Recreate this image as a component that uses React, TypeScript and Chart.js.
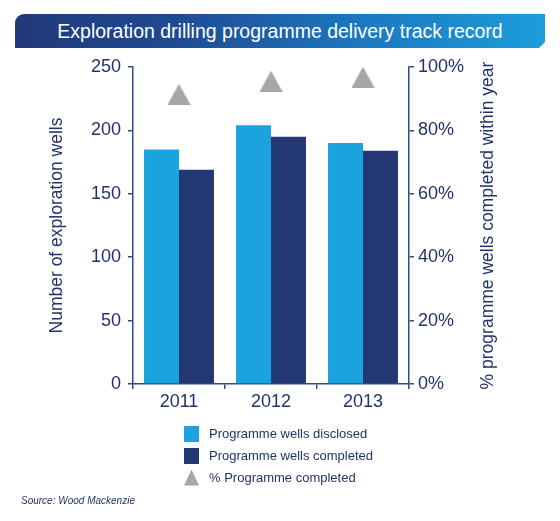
import React, { useEffect, useRef } from 'react';
import { Chart, registerables } from 'chart.js';

Chart.register(...registerables);

// ---- data ----
const categories = ['2011', '2012', '2013'];
const wellsDisclosed = [185, 204, 190];
const wellsCompleted = [169, 195, 184];
const pctCompleted = [91.4, 95.5, 96.8];
const leftTicks = [0, 50, 100, 150, 200, 250];
const rightTicks = [0, 20, 40, 60, 80, 100];
const seriesNames = ['Programme wells disclosed', 'Programme wells completed', '% Programme completed'];
const titleText = 'Exploration drilling programme delivery track record';
const leftTitle = 'Number of exploration wells';
const rightTitle = '% programme wells completed within year';
const sourceText = 'Source: Wood Mackenzie';

// ---- styles ----
const FONT = '"Liberation Sans", Arial, Helvetica, sans-serif';
const LIGHT = '#1ba3dd';
const DARK = '#233873';
const GREY = '#a6a6a6';
const TEXT = '#22336b';
const AXIS = '#2e4c8c';

function makeTriangle(w: number, h: number) {
  const c = document.createElement('canvas');
  c.width = w;
  c.height = h;
  const ctx = c.getContext('2d')!;
  ctx.fillStyle = GREY;
  ctx.beginPath();
  ctx.moveTo(w / 2, 0);
  ctx.lineTo(w, h);
  ctx.lineTo(0, h);
  ctx.closePath();
  ctx.fill();
  return c;
}

const rightTitlePlugin = {
  id: 'rightTitle',
  afterDraw(chart: any) {
    const { ctx, chartArea } = chart;
    const s = chart.scales.y1;
    ctx.save();
    ctx.translate(s.right - 72, (chartArea.top + chartArea.bottom) / 2);
    ctx.rotate(-Math.PI / 2);
    ctx.font = `17.5px ${FONT}`;
    ctx.fillStyle = TEXT;
    ctx.textAlign = 'center';
    ctx.textBaseline = 'middle';
    ctx.fillText(rightTitle, 0, 0);
    ctx.restore();
  },
};

export default function App() {
  const ref = useRef<HTMLCanvasElement | null>(null);

  useEffect(() => {
    if (!ref.current) return;
    const tri = makeTriangle(23, 21);
    const chart = new Chart(ref.current, {
      type: 'bar',
      data: {
        labels: categories,
        datasets: [
          {
            type: 'line',
            label: seriesNames[2],
            data: pctCompleted,
            yAxisID: 'y1',
            showLine: false,
            pointStyle: tri as any,
            pointRadius: 12,
            borderWidth: 0,
            backgroundColor: GREY,
            order: 0,
          } as any,
          {
            label: seriesNames[0],
            data: wellsDisclosed,
            backgroundColor: LIGHT,
            yAxisID: 'y',
            categoryPercentage: 0.76,
            barPercentage: 1,
            order: 1,
          },
          {
            label: seriesNames[1],
            data: wellsCompleted,
            backgroundColor: DARK,
            yAxisID: 'y',
            categoryPercentage: 0.76,
            barPercentage: 1,
            order: 1,
          },
        ],
      },
      options: {
        responsive: false,
        animation: false,
        layout: { padding: { left: 0, right: 0, top: 67, bottom: 107 } },
        plugins: {
          legend: { display: false },
          tooltip: { enabled: false },
          title: { display: false },
        },
        scales: {
          x: {
            offset: true,
            grid: { display: true, drawOnChartArea: false, drawTicks: true, tickLength: 5, color: AXIS, lineWidth: 1.5, offset: true },
            border: { display: true, color: AXIS, width: 1.5 },
            ticks: { color: TEXT, font: { family: FONT, size: 18 }, padding: 2 },
            afterFit: (s: any) => { s.height = 30; },
          },
          y: {
            position: 'left',
            min: 0,
            max: 250,
            afterBuildTicks: (s: any) => { s.ticks = leftTicks.map((v) => ({ value: v })); },
            grid: { display: true, drawOnChartArea: false, drawTicks: true, tickLength: 5, color: AXIS, lineWidth: 1.5 },
            border: { display: true, color: AXIS, width: 1.5 },
            ticks: { color: TEXT, font: { family: FONT, size: 18 }, padding: 7 },
            title: {
              display: true,
              text: leftTitle,
              color: TEXT,
              font: { family: FONT, size: 17.5 },
              padding: { top: 47, bottom: 0 },
            },
            afterFit: (s: any) => { s.width = 133; },
          },
          y1: {
            position: 'right',
            min: 0,
            max: 100,
            afterBuildTicks: (s: any) => { s.ticks = rightTicks.map((v) => ({ value: v })); },
            grid: { display: true, drawOnChartArea: false, drawTicks: true, tickLength: 5, color: AXIS, lineWidth: 1.5 },
            border: { display: true, color: AXIS, width: 1.5 },
            ticks: { color: TEXT, font: { family: FONT, size: 18 }, padding: 4, callback: (v: any) => `${v}%` },
            afterFit: (s: any) => { s.width = 151; },
          },
        },
      },
      plugins: [rightTitlePlugin],
    });
    return () => chart.destroy();
  }, []);

  const legendRow = (top: number, swatch: React.ReactNode, text: string) => (
    <div style={{ position: 'absolute', left: 184, top, height: 17, display: 'flex', alignItems: 'center' }}>
      <div style={{ width: 15, height: 17, display: 'flex', alignItems: 'center' }}>{swatch}</div>
      <span style={{ marginLeft: 10, fontFamily: FONT, fontSize: 13, color: TEXT, whiteSpace: 'nowrap' }}>{text}</span>
    </div>
  );

  return (
    <div style={{ position: 'absolute', left: 0, top: 0, width: 560, height: 521, background: '#fff', overflow: 'hidden' }}>
      <div
        style={{
          position: 'absolute',
          left: 15,
          top: 14,
          width: 530,
          height: 34,
          background: 'linear-gradient(90deg, #22397a 0%, #1f4a92 30%, #1b78c0 65%, #1c9edb 100%)',
          borderTopLeftRadius: 9,
          clipPath: 'polygon(0 0, 100% 0, 100% calc(100% - 6px), calc(100% - 6px) 100%, 0 100%)',
          display: 'flex',
          alignItems: 'center',
          justifyContent: 'center',
          color: '#fff',
          fontFamily: FONT,
          fontSize: 19.5,
        }}
      >
        {titleText}
      </div>
      <canvas ref={ref} width={560} height={521} style={{ position: 'absolute', left: 0, top: 0 }} />
      {legendRow(425, <div style={{ width: 15, height: 16, background: LIGHT }} />, seriesNames[0])}
      {legendRow(447, <div style={{ width: 15, height: 16, background: DARK }} />, seriesNames[1])}
      {legendRow(469, <div style={{ width: 15, height: 16, background: GREY, clipPath: 'polygon(50% 0, 100% 100%, 0 100%)' }} />, seriesNames[2])}
      <div style={{ position: 'absolute', left: 21, top: 495, fontFamily: FONT, fontSize: 10, fontStyle: 'italic', color: TEXT, whiteSpace: 'nowrap' }}>
        {sourceText}
      </div>
    </div>
  );
}
